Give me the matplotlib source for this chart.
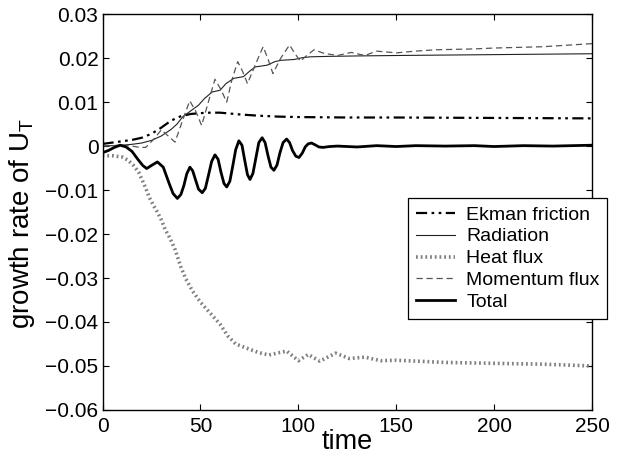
import matplotlib
matplotlib.use("Agg")
import matplotlib.pyplot as plt

plt.rcParams["font.family"] = ["Liberation Sans", "DejaVu Sans"]
plt.rcParams["mathtext.default"] = "regular"

# Ekman friction
ekman_t = [0, 5, 10, 15, 20, 25, 30, 35, 40, 45, 50, 55, 60, 65, 70, 80, 90,
           100, 125, 150, 200, 250]
ekman_v = [0.0005, 0.0008, 0.0011, 0.0014, 0.0019, 0.0028, 0.0042, 0.0058,
           0.0068, 0.0073, 0.0075, 0.0076, 0.0076, 0.0074, 0.0072, 0.0069,
           0.0067, 0.0066, 0.0065, 0.0065, 0.0064, 0.0063]

# Radiation
rad_t = [0, 5, 10, 15, 20, 25, 30, 35, 38, 41, 45, 49, 52, 56, 60, 63, 67, 72,
         75, 78, 84, 88, 91, 98, 102, 106, 115, 130, 150, 175, 200, 225, 250]
rad_v = [0.0, 0.0001, 0.0002, 0.0004, 0.0007, 0.0013, 0.0023, 0.0038, 0.0050,
         0.0067, 0.0080, 0.0093, 0.0108, 0.0123, 0.0127, 0.0142, 0.0154,
         0.0158, 0.0170, 0.0180, 0.0184, 0.0192, 0.0195, 0.0197, 0.0201,
         0.0203, 0.0204, 0.0205, 0.0206, 0.0207, 0.0208, 0.0209, 0.0210]

# Heat flux
heat_t = [0, 5, 10, 13, 16, 18.5, 21.5, 24, 26, 28, 30, 32, 34.5, 37, 40, 42.5,
          46, 50, 55, 60, 64, 68, 75, 80, 85, 90, 94, 100, 105, 111, 119, 126,
          134, 142, 150, 175, 200, 225, 250]
heat_v = [-0.0022, -0.0022, -0.0025, -0.0032, -0.0045, -0.0060, -0.0090,
          -0.0118, -0.0135, -0.0150, -0.0168, -0.0190, -0.0210, -0.0235,
          -0.0275, -0.0302, -0.0330, -0.0355, -0.0380, -0.0405, -0.0432,
          -0.0450, -0.0462, -0.0470, -0.0475, -0.0470, -0.0466, -0.0488,
          -0.0474, -0.0489, -0.0471, -0.0483, -0.0480, -0.0488, -0.0487,
          -0.0492, -0.0494, -0.0496, -0.0500]

# Momentum flux
mom_t = [0, 5, 10, 15, 19, 22, 26, 30, 33, 37, 41, 44.5, 47.5, 50.6, 54, 57.4,
         60.5, 63.4, 66, 69, 71.5, 74, 78, 82, 84.5, 87, 91, 95.5, 98, 101,
         104, 108, 113, 120, 127, 134, 140, 150, 160, 170, 180, 190, 200, 225,
         250]
mom_v = [0.0, 0.0001, 0.0002, 0.0, -0.0003, -0.0003, 0.0015, 0.0037, 0.0025,
         0.0009, 0.0060, 0.0103, 0.0080, 0.0047, 0.0100, 0.0152, 0.0128,
         0.0100, 0.0150, 0.0192, 0.0170, 0.0142, 0.0185, 0.0226, 0.0198,
         0.0165, 0.0200, 0.0230, 0.0212, 0.0193, 0.0205, 0.0219, 0.0211,
         0.0206, 0.0213, 0.0206, 0.0216, 0.0212, 0.0216, 0.0219, 0.0220,
         0.0221, 0.0223, 0.0226, 0.0233]

# Total
total_t = [0, 3, 6, 9, 12, 15, 18, 20.5, 22.5, 25, 28, 31, 34, 36, 38.2, 40,
           41.5, 43, 44.6, 46, 47.5, 49, 50.9, 52.5, 54, 55.7, 57.4, 59, 60.5,
           62, 63.4, 65, 66.5, 68, 69.6, 71.2, 72.5, 74, 75.3, 76.8, 78.3,
           79.8, 81.5, 83, 84.5, 86, 87.5, 89.1, 90.6, 92.2, 94, 95.5, 97,
           98.7, 100.3, 102, 103.5, 105, 106.7, 108.5, 110.5, 112.6, 116, 120,
           130, 140, 150, 160, 175, 190, 200, 215, 230, 240, 250]
total_v = [-0.0015, -0.0010, -0.0003, 0.0002, -0.0002, -0.0012, -0.0030,
           -0.0044, -0.0051, -0.0044, -0.0036, -0.0048, -0.0085, -0.0108,
           -0.0119, -0.0110, -0.0090, -0.0063, -0.0048, -0.0056, -0.0077,
           -0.0098, -0.0106, -0.0096, -0.0068, -0.0035, -0.0020, -0.0030,
           -0.0060, -0.0085, -0.0093, -0.0080, -0.0045, -0.0008, 0.0012,
           0.0002, -0.0030, -0.0065, -0.0076, -0.0062, -0.0027, 0.0008,
           0.0019, 0.0008, -0.0022, -0.0048, -0.0055, -0.0043, -0.0015,
           0.0008, 0.0016, 0.0008, -0.0010, -0.0023, -0.0026, -0.0016,
           -0.0002, 0.0005, 0.0007, 0.0003, -0.0002, -0.0003, -0.0001, 0.0,
           -0.0002, 0.0001, -0.0001, 0.0001, 0.0, 0.0001, -0.0001, 0.0001,
           0.0, 0.0001, 0.0002]

y_ticks = [-0.06, -0.05, -0.04, -0.03, -0.02, -0.01, 0, 0.01, 0.02, 0.03]
y_tick_labels = ["\u22120.06", "\u22120.05", "\u22120.04", "\u22120.03",
                 "\u22120.02", "\u22120.01", "0", "0.01", "0.02", "0.03"]
x_ticks = [0, 50, 100, 150, 200, 250]

fig = plt.figure(figsize=(6.18, 4.57), dpi=100)
ax = fig.add_axes([0.166, 0.103, 0.792, 0.866])

ax.plot(ekman_t, ekman_v, color="black", lw=1.6, dashes=(5, 2, 1.2, 2, 1.2, 2),
        label="Ekman friction")
ax.plot(rad_t, rad_v, color="#222222", lw=0.8, label="Radiation")
ax.plot(heat_t, heat_v, color="#808080", lw=2.6, dashes=(0.5, 0.8),
        label="Heat flux")
ax.plot(mom_t, mom_v, color="#555555", lw=0.9, dashes=(5, 3),
        label="Momentum flux")
ax.plot(total_t, total_v, color="black", lw=2.0, label="Total")

ax.set_xlim(0, 250)
ax.set_ylim(-0.06, 0.03)
ax.set_xticks(x_ticks)
ax.set_yticks(y_ticks)
ax.set_yticklabels(y_tick_labels)
ax.tick_params(direction="in", length=4, width=0.8, labelsize=15,
               top=True, right=True)
ax.tick_params(axis="x", pad=5)
ax.tick_params(axis="y", pad=3)
for s in ax.spines.values():
    s.set_linewidth(1.0)

ax.set_xlabel("time", fontsize=19.5, labelpad=-5)
ax.set_ylabel("growth rate of U$_T$", fontsize=20)
ax.yaxis.set_label_coords(-0.135, 0.47)

leg = ax.legend(loc="upper left", bbox_to_anchor=(0.624, 0.535),
                borderaxespad=0, fontsize=14, fancybox=False,
                edgecolor="black", framealpha=1, handlelength=2.0,
                labelspacing=0.22, borderpad=0.4, handletextpad=0.6)
leg.get_frame().set_linewidth(0.9)

fig.savefig("out.png", dpi=100)
